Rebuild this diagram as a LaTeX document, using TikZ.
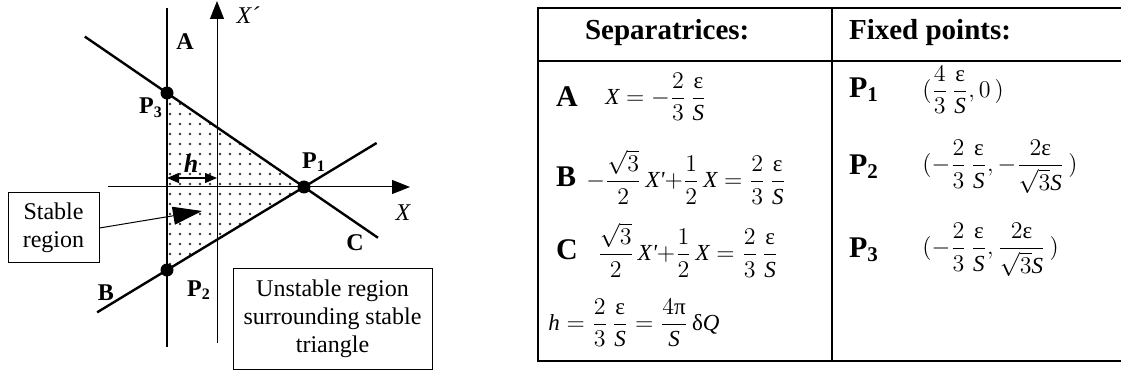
\documentclass[tikz,border=0pt]{standalone}
\usepackage{amsmath}
\usepackage{fontspec}
\setmainfont{Liberation Serif}
\DeclareSymbolFont{operators}{TU}{\rmdefault}{m}{n}
\SetSymbolFont{operators}{bold}{TU}{\rmdefault}{b}{n}
\usetikzlibrary{arrows.meta,positioning,patterns.meta,calc}

\newcommand{\epsu}{\text{ε}}
\newcommand{\piu}{\text{π}}
\newcommand{\deltau}{\text{δ}}
\newcommand{\mv}[1]{\text{\itshape #1}}
\newcommand{\Xp}{\text{\itshape X\textquotesingle}}

\begin{document}
\begin{tikzpicture}[x=0.5pt, y=-0.5pt,
    sepline/.style={line width=1.2pt},
    axis/.style={line width=0.5pt, -{Triangle[length=9pt, width=7pt]}},
    fixpt/.style={circle, fill, inner sep=0pt, minimum size=6.5pt},
    lab/.style={font=\fontsize{12}{14}\selectfont\bfseries},
    note/.style={draw, line width=0.5pt, align=center, inner sep=0pt,
      font=\fontsize{12}{14}\selectfont},
    head/.style={anchor=west, font=\fontsize{14.5}{17}\selectfont\bfseries},
    rowlab/.style={anchor=west, font=\fontsize{15}{17}\selectfont\bfseries},
    eqn/.style={anchor=west, inner sep=0pt, font=\fontsize{11.5}{13}\selectfont}]
  \useasboundingbox (0,0) rectangle (1121,374);

  % Fixed points
  \coordinate (p1) at (304,187);
  \coordinate (p2) at (167,270);
  \coordinate (p3) at (167,93);

  % Stable triangle
  \fill[pattern={Dots[distance=5pt, radius=0.65pt]}, pattern color=black!80]
    (p1) -- (p2) -- (p3) -- cycle;

  % Axes
  \coordinate (xs) at (108,187);
  \coordinate (xe) at (410,187);
  \coordinate (ys) at (217,343);
  \coordinate (ye) at (217,1);
  \draw[axis] (xs) -- (xe);
  \draw[axis] (ys) -- (ye);
  \node[font=\fontsize{12}{14}\selectfont\itshape] (xlab) at (403,213) {X};
  \node[font=\fontsize{12}{14}\selectfont\itshape] (yplab) at (248,15) {X´};

  % Separatrices
  \coordinate (a1) at (167,8);
  \coordinate (a2) at (167,347);
  \draw[sepline] (a1) -- (a2);
  \draw[sepline] ($(p3)!-0.6!(p1)$) -- ($(p3)!1.54!(p1)$);
  \draw[sepline] ($(p2)!-0.51!(p1)$) -- ($(p2)!1.53!(p1)$);
  \node[lab] (la) at (185,42) {A};
  \node[lab] (lb) at (106,293) {B};
  \node[lab] (lc) at (355,243) {C};

  % Fixed point dots and labels
  \foreach \p in {p1,p2,p3} {
    \node[fixpt] (\p dot) at (\p) {};
  }
  \node[lab] (lp1) at (314,162) {P$_{\mathbf{1}}$};
  \node[lab] (lp2) at (199,290) {P$_{\mathbf{2}}$};
  \node[lab] (lp3) at (151,108) {P$_{\mathbf{3}}$};

  % Width h
  \coordinate (h1) at (167,178);
  \coordinate (h2) at (217,178);
  \draw[line width=0.6pt, {Triangle[length=6pt, width=5pt]}-{Triangle[length=6pt, width=5pt]}] (h1) -- (h2);
  \node[font=\fontsize{13}{15}\selectfont\bfseries\itshape] (hlab) at (191,163) {h};

  % Notes
  \node[note, minimum width=45.5pt, minimum height=35pt] (stable) at (53.5,228)
    {Stable\\region};
  \coordinate (stip) at (202,211);
  \draw[line width=0.5pt, -{Triangle[length=14.5pt, width=9pt]}] (stable.east) -- (stip);
  \node[note, minimum width=99.5pt, minimum height=50pt] (unstable) at (332.5,319)
    {Unstable region\\surrounding stable\\triangle};

  % Table
  \draw[line width=1.3pt] (1122,8) -- (538,8) -- (538,361) -- (1122,361);
  \draw[line width=1.3pt] (538,61) -- (1122,61);
  \draw[line width=1.3pt] (832,8) -- (832,361);
  \node[head] (tsep) at (578,33) {Separatrices:};
  \node[head] (tfix) at (842,33) {Fixed points:};

  % Separatrices rows
  \node[rowlab] (ra) at (549,97) {A};
  \node[eqn] (ea) at (605,97)
    {$\mv{X}=-\dfrac{2}{3}\,\dfrac{\epsu}{\mv{S}}$};
  \node[rowlab] (rb) at (549,177) {B};
  \node[eqn] (eb) at (586,177)
    {$-\dfrac{\sqrt{3}}{2}\,\Xp{+}\dfrac{1}{2}\,\mv{X}=\dfrac{2}{3}\,\dfrac{\epsu}{\mv{S}}$};
  \node[rowlab] (rc) at (549,250) {C};
  \node[eqn] (ec) at (597,250)
    {$\dfrac{\sqrt{3}}{2}\,\Xp{+}\dfrac{1}{2}\,\mv{X}=\dfrac{2}{3}\,\dfrac{\epsu}{\mv{S}}$};
  \node[eqn] (eh) at (548,323)
    {$\mv{h}=\dfrac{2}{3}\,\dfrac{\epsu}{\mv{S}}=\dfrac{4\piu}{\mv{S}}\,\deltau\mv{Q}$};

  % Fixed points rows
  \node[rowlab] (rp1) at (842,90) {P$_{\mathbf{1}}$};
  \node[eqn] (ep1) at (922,90)
    {$(\dfrac{4}{3}\,\dfrac{\epsu}{\mv{S}},0\,)$};
  \node[rowlab] (rp2) at (842,167) {P$_{\mathbf{2}}$};
  \node[eqn] (ep2) at (922,167)
    {$(-\dfrac{2}{3}\,\dfrac{\epsu}{\mv{S}},-\dfrac{2\epsu}{\sqrt{3}\mv{S}}\,)$};
  \node[rowlab] (rp3) at (842,250) {P$_{\mathbf{3}}$};
  \node[eqn] (ep3) at (922,250)
    {$(-\dfrac{2}{3}\,\dfrac{\epsu}{\mv{S}},\dfrac{2\epsu}{\sqrt{3}\mv{S}}\,)$};
\end{tikzpicture}
\end{document}
